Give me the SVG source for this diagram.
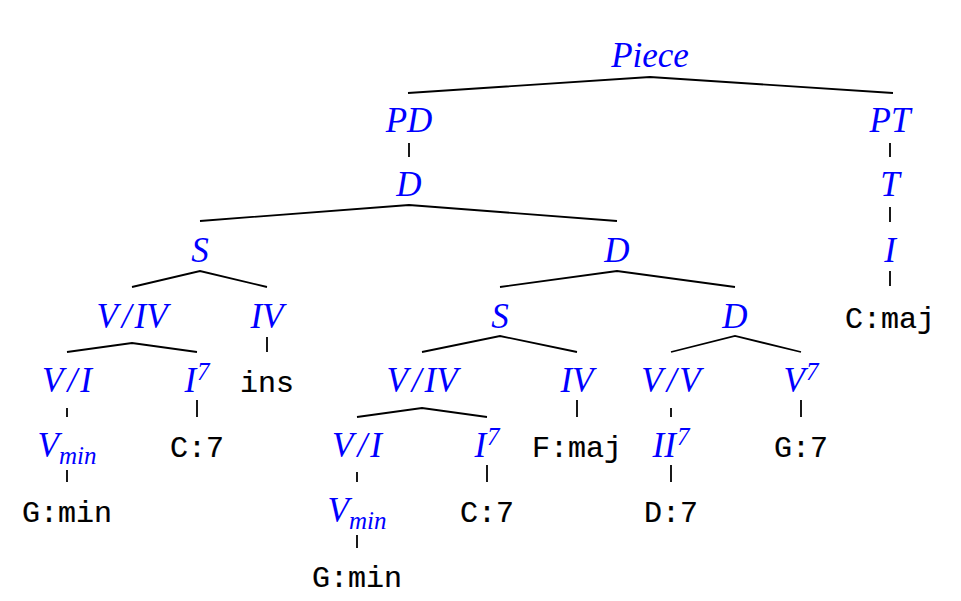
<svg xmlns="http://www.w3.org/2000/svg" width="961" height="601" viewBox="0 0 961 601">
<style>
.n{font-family:"Liberation Serif","Times New Roman",serif;font-style:italic;font-size:35px;fill:#0000ff;text-anchor:middle}
.m{font-family:"Liberation Mono","Courier New",monospace;font-size:30px;fill:#000;stroke:#000;stroke-width:0.2;text-anchor:middle}
.sup{font-size:25px}
.sub{font-size:25px}
.e{fill:none;stroke:#000;stroke-width:1.8;stroke-linejoin:miter}
</style>
<rect width="961" height="601" fill="#fff"/>
<g id="connectors">
<path class="e" d="M408,93 L650,77 L893,93"/>
<path class="e" d="M409,143 V157"/>
<path class="e" d="M890,143 V157"/>
<path class="e" d="M200,221 L409,205 L617,221"/>
<path class="e" d="M890,207 V222"/>
<path class="e" d="M890,271 V286"/>
<path class="e" d="M132,287 L200,271 L267,287"/>
<path class="e" d="M500,287 L617,271 L735,287"/>
<path class="e" d="M67,352 L132,343 L197,352"/>
<path class="e" d="M267,337 V352"/>
<path class="e" d="M422,352 L500,336 L577,352"/>
<path class="e" d="M671,352 L735,336 L801,352"/>
<path class="e" d="M67,408 V417"/>
<path class="e" d="M197,400 V417"/>
<path class="e" d="M357,417 L422,408 L487,417"/>
<path class="e" d="M577,400 V417"/>
<path class="e" d="M671,408 V417"/>
<path class="e" d="M801,400 V417"/>
<path class="e" d="M67,470 V482"/>
<path class="e" d="M357,472 V482"/>
<path class="e" d="M487,465 V482"/>
<path class="e" d="M671,465 V482"/>
<path class="e" d="M357,535 V548"/>
</g>
<g id="piece"><text class="n" x="650" y="67">Piece</text></g>
<g id="pd"><text class="n" x="409" y="132">PD</text></g>
<g id="pt"><text class="n" x="890" y="132">PT</text></g>
<g id="d1"><text class="n" x="409" y="196">D</text></g>
<g id="t"><text class="n" x="890" y="196">T</text></g>
<g id="s1"><text class="n" x="200" y="262">S</text></g>
<g id="d2"><text class="n" x="617" y="262">D</text></g>
<g id="i1"><text class="n" x="890" y="262">I</text></g>
<g id="cmaj"><text class="m" x="890" y="328">C:maj</text></g>
<g id="viv1"><text class="n" x="132" y="328">V<tspan dx="4">/</tspan><tspan dx="3">IV</tspan></text></g>
<g id="iv1"><text class="n" x="267" y="328">IV</text></g>
<g id="s2"><text class="n" x="500" y="328">S</text></g>
<g id="d3"><text class="n" x="735" y="328">D</text></g>
<g id="vi1"><text class="n" x="67" y="392">V<tspan dx="4">/</tspan><tspan dx="3">I</tspan></text></g>
<g id="i7a"><text class="n" x="197" y="392">I<tspan class="sup" dx="1" dy="-12">7</tspan></text></g>
<g id="ins"><text class="m" x="267" y="392">ins</text></g>
<g id="viv2"><text class="n" x="422" y="392">V<tspan dx="4">/</tspan><tspan dx="3">IV</tspan></text></g>
<g id="iv2"><text class="n" x="577" y="392">IV</text></g>
<g id="vv"><text class="n" x="671" y="392">V<tspan dx="4">/</tspan><tspan dx="3">V</tspan></text></g>
<g id="v7"><text class="n" x="801" y="392">V<tspan class="sup" dx="1" dy="-12">7</tspan></text></g>
<g id="vmin1"><text class="n" x="67" y="457">V<tspan class="sub" dy="7">min</tspan></text></g>
<g id="c7a"><text class="m" x="197" y="457">C:7</text></g>
<g id="vi2"><text class="n" x="357" y="457">V<tspan dx="4">/</tspan><tspan dx="3">I</tspan></text></g>
<g id="i7b"><text class="n" x="487" y="457">I<tspan class="sup" dx="1" dy="-12">7</tspan></text></g>
<g id="fmaj"><text class="m" x="577" y="457">F:maj</text></g>
<g id="ii7"><text class="n" x="671" y="457">II<tspan class="sup" dx="1" dy="-12">7</tspan></text></g>
<g id="g7"><text class="m" x="801" y="457">G:7</text></g>
<g id="gmin1"><text class="m" x="67" y="522">G:min</text></g>
<g id="vmin2"><text class="n" x="357" y="522">V<tspan class="sub" dy="7">min</tspan></text></g>
<g id="c7b"><text class="m" x="487" y="522">C:7</text></g>
<g id="d7"><text class="m" x="671" y="522">D:7</text></g>
<g id="gmin2"><text class="m" x="357" y="587">G:min</text></g>
</svg>
